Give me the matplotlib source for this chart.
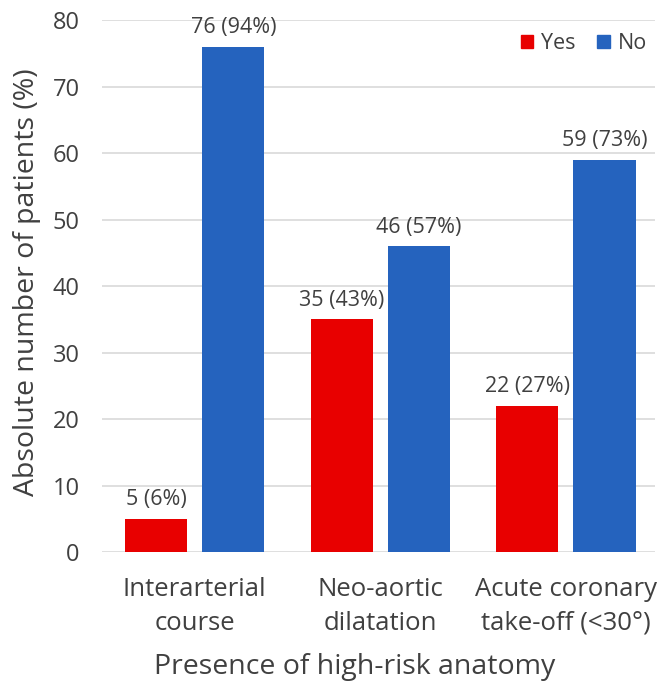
import numpy as np
import matplotlib.pyplot as plt
from matplotlib.patches import Patch

plt.rcParams['font.family'] = ['Open Sans', 'DejaVu Sans']

categories = ["Interarterial\ncourse", "Neo-aortic\ndilatation", "Acute coronary\ntake-off (<30°)"]
yes_counts = [5, 35, 22]
yes_pct = [6, 43, 27]
no_counts = [76, 46, 59]
no_pct = [94, 57, 73]

red = "#E80000"
blue = "#2563BE"
text_col = "#404040"

fig = plt.figure(figsize=(6.57, 6.91), dpi=100)
ax = fig.add_axes([0.155, 0.201, 0.842, 0.770])

x = np.arange(len(categories))
w = 0.335
off = 0.208
ax.bar(x - off, yes_counts, w, color=red, zorder=3)
ax.bar(x + off, no_counts, w, color=blue, zorder=3)

for xi, c, p in zip(x, yes_counts, yes_pct):
    ax.text(xi - off, c + 1.3, f"{c} ({p}%)", ha='center', va='bottom', fontsize=15.5, color=text_col)
for xi, c, p in zip(x, no_counts, no_pct):
    ax.text(xi + off, c + 1.3, f"{c} ({p}%)", ha='center', va='bottom', fontsize=15.5, color=text_col)

ax.set_ylim(0, 80)
ax.set_xlim(-0.5, 2.48)
ax.set_yticks(range(0, 81, 10))
ax.yaxis.grid(True, color="#D9D9D9", linewidth=1.2, zorder=0)
ax.set_axisbelow(True)
for s in ax.spines.values():
    s.set_visible(False)
ax.tick_params(axis='both', length=0, labelsize=17, colors=text_col)
ax.tick_params(axis='y', pad=16)
ax.tick_params(axis='x', pad=18)
ax.set_xticks(x)
ax.set_xticklabels(categories, fontsize=18.5, color=text_col, linespacing=1.45)

ax.set_ylabel("Absolute number of patients (%)", fontsize=20.5, color=text_col)
ax.set_xlabel("Presence of high-risk anatomy", fontsize=20.5, color=text_col)
ax.yaxis.set_label_coords(-0.11, 0.508)
ax.xaxis.set_label_coords(0.457, -0.19)

handles = [Patch(color=red, label="Yes"), Patch(color=blue, label="No")]
ax.legend(handles=handles, loc='upper right', ncol=2, frameon=False, fontsize=15.5,
          handlelength=0.6, handleheight=0.6, handletextpad=0.35, columnspacing=1.0,
          labelcolor=text_col, bbox_to_anchor=(1.02, 1.012))

fig.savefig("out.png", dpi=100)
